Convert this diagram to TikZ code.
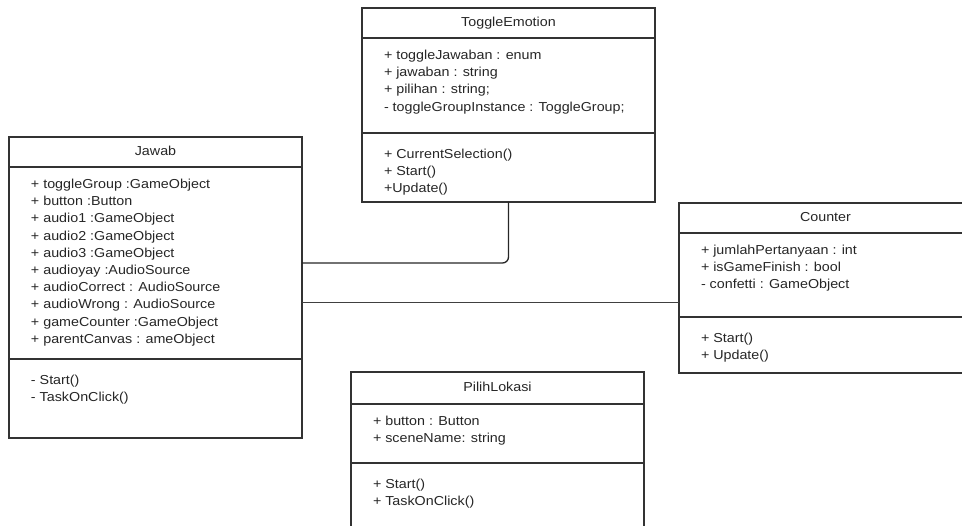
\documentclass[tikz,border=0pt]{standalone}
\usepackage{fontspec}
\setmainfont{Liberation Sans}[FakeStretch=1.1]
\usetikzlibrary{positioning}
\newcommand{\members}[3]{\parbox[c][#1][t]{293pt}{\raggedright\leftskip=22pt\baselineskip=17.2pt\vspace*{#2}#3}}

\begin{document}
\begin{tikzpicture}[x=1pt,y=-1pt]
	\tikzstyle{every node}=[font=\fontsize{13}{17.2}\selectfont, text=black!85]
	\tikzstyle{head}=[rectangle, draw=black!80, line width=1.2pt, minimum width=293pt, minimum height=30pt, inner sep=0pt, outer sep=0pt, text height=9.5pt, text depth=2.5pt, anchor=north west]
	\tikzstyle{part}=[rectangle, draw=black!80, line width=1.2pt, inner sep=0pt, outer sep=0pt, node distance=0pt]
	\tikzstyle{link}=[draw=black!75, line width=1pt]
	\useasboundingbox (0,0) rectangle (962,526);
	\clip (0,0) rectangle (962,526);
	\node[head] (jawab) at (9,137) {Jawab};
	\node[part] (jawab attr) [below=of jawab] {\members{192pt}{12pt}{+ toggleGroup :GameObject\\+ button :Button\\+ audio1 :GameObject\\+ audio2 :GameObject\\+ audio3 :GameObject\\+ audioyay :AudioSource\\+ audioCorrect : AudioSource\\+ audioWrong : AudioSource\\+ gameCounter :GameObject\\+ parentCanvas : ameObject}};
	\node[part] (jawab meth) [below=of jawab attr] {\members{79pt}{16pt}{- Start()\\- TaskOnClick()}};
	\node[head] (toggle) at (362,8) {ToggleEmotion};
	\node[part] (toggle attr) [below=of toggle] {\members{95pt}{12pt}{+ toggleJawaban : enum\\+ jawaban : string\\+ pilihan : string;\\- toggleGroupInstance : ToggleGroup;}};
	\node[part] (toggle meth) [below=of toggle attr] {\members{69pt}{16pt}{+ CurrentSelection()\\+ Start()\\+Update()}};
	\node[head] (counter) at (679,203) {Counter};
	\node[part] (counter attr) [below=of counter] {\members{84pt}{12pt}{+ jumlahPertanyaan : int\\+ isGameFinish : bool\\- confetti : GameObject}};
	\node[part] (counter meth) [below=of counter attr] {\members{56pt}{16pt}{+ Start()\\+ Update()}};
	\node[head, minimum height=32pt] (pilih) at (351,372) {PilihLokasi};
	\node[part] (pilih attr) [below=of pilih] {\members{59pt}{12pt}{+ button : Button\\+ sceneName: string}};
	\node[part] (pilih meth) [below=of pilih attr] {\members{78pt}{16pt}{+ Start()\\+ TaskOnClick()}};
	\draw[link, draw=black!85, line width=1.3pt, rounded corners=6pt] (toggle meth.south) |- (jawab attr.east);
	\coordinate (jawab link) at ([yshift=-40pt]jawab attr.east);
	\draw[link] (jawab link) -- (jawab link -| counter attr.west);
\end{tikzpicture}
\end{document}
